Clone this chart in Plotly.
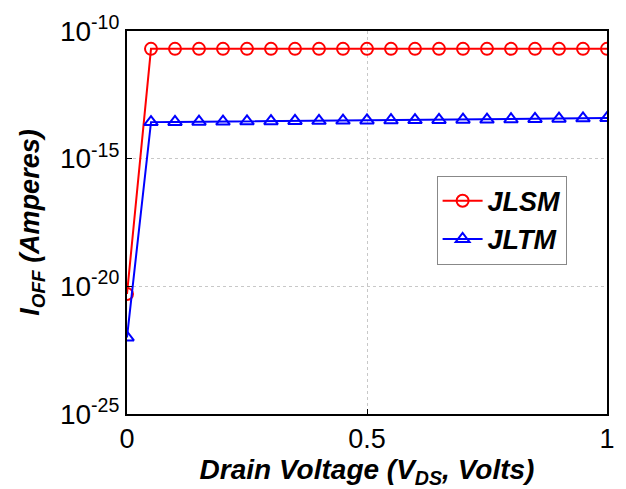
import plotly.graph_objects as go

# Drain voltage sweep (V)
vds = [round(0.05 * i, 2) for i in range(21)]

# Off-state current (A)
i_off_jlsm = [5e-21] + [2.0e-11] * 20
i_off_jltm = [1.0e-22, 2.7e-14, 2.75e-14, 2.8e-14, 2.85e-14, 2.9e-14, 2.95e-14,
              3.0e-14, 3.05e-14, 3.1e-14, 3.15e-14, 3.2e-14, 3.25e-14, 3.3e-14,
              3.35e-14, 3.4e-14, 3.5e-14, 3.6e-14, 3.7e-14, 3.8e-14, 3.9e-14]

y_tickvals = [1e-25, 1e-20, 1e-15, 1e-10]
y_ticktext = ["10<sup>-25</sup>", "10<sup>-20</sup>", "10<sup>-15</sup>", "10<sup>-10</sup>"]
x_tickvals = [0, 0.5, 1]
x_ticktext = ["0", "0.5", "1"]

FONT = "Liberation Sans, Arial, Helvetica, sans-serif"

fig = go.Figure()
fig.add_trace(go.Scatter(
    x=vds, y=i_off_jlsm, name="<b><i>JLSM</i></b>", mode="lines+markers",
    line=dict(color="#ff0000", width=2),
    marker=dict(symbol="circle-open", size=12, color="#ff0000", line=dict(width=2)),
))
fig.add_trace(go.Scatter(
    x=vds, y=i_off_jltm, name="<b><i>JLTM</i></b>", mode="lines+markers",
    line=dict(color="#0000ff", width=2),
    marker=dict(symbol="triangle-up-open", size=12, color="#0000ff", line=dict(width=2)),
))

fig.update_layout(
    width=626, height=489,
    margin=dict(l=127, r=11, t=31, b=75),
    paper_bgcolor="white", plot_bgcolor="white",
    font=dict(family=FONT, color="black"),
    legend=dict(
        x=0.645, y=0.622, xanchor="left", yanchor="top",
        bgcolor="white", bordercolor="#888888", borderwidth=1,
        font=dict(size=27, family=FONT),
        itemwidth=40, tracegroupgap=0,
    ),
    xaxis=dict(
        range=[0, 1], tickvals=x_tickvals, ticktext=x_ticktext,
        tickfont=dict(size=27), ticks="inside", ticklen=5, tickcolor="black",
        showline=True, linecolor="black", linewidth=2, mirror=True,
        showgrid=True, gridcolor="#c8c8c8", griddash="dot", gridwidth=1,
        zeroline=False,
        title=dict(text="<b><i>Drain Voltage (V<sub>DS</sub>, Volts)</i></b>",
                   font=dict(size=28), standoff=4),
    ),
    yaxis=dict(
        type="log", range=[-25, -10], tickvals=y_tickvals, ticktext=y_ticktext,
        tickfont=dict(size=28), ticks="inside", ticklen=5, tickcolor="black",
        showline=True, linecolor="black", linewidth=2, mirror=True,
        showgrid=True, gridcolor="#c8c8c8", griddash="dot", gridwidth=1,
        zeroline=False,
        title=dict(text="<b><i>I<sub>OFF</sub> (Amperes)</i></b>",
                   font=dict(size=27), standoff=12),
    ),
)

fig.write_html("out.html")
